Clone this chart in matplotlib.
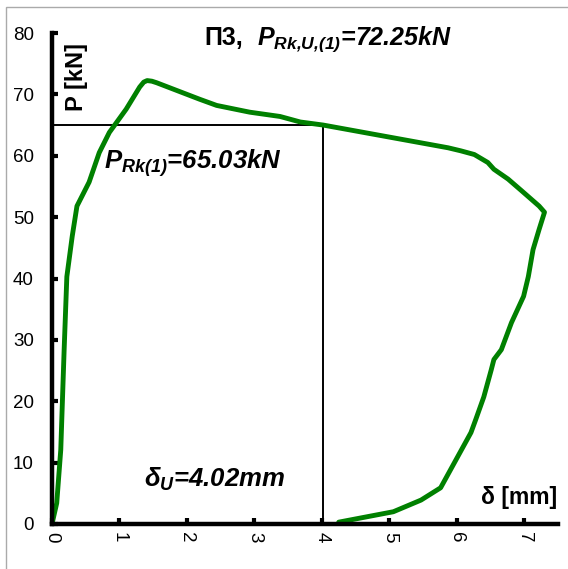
import numpy as np
import matplotlib
matplotlib.use('Agg')
import matplotlib.pyplot as plt
from matplotlib.patches import Rectangle

plt.rcParams['font.family'] = ['Liberation Sans', 'DejaVu Sans']
plt.rcParams['mathtext.fontset'] = 'custom'
plt.rcParams['mathtext.rm'] = 'Liberation Sans:bold:italic'
plt.rcParams['mathtext.it'] = 'Liberation Sans:bold:italic'
plt.rcParams['mathtext.bf'] = 'Liberation Sans:bold:italic'

# крива P-δ
delta = [0, 0.07, 0.13, 0.18, 0.22, 0.30, 0.37, 0.55, 0.70, 0.85, 1.10, 1.30, 1.36, 1.41,
         1.48, 1.55, 2.19, 2.44, 2.93, 3.38, 3.68, 4.02, 5.87, 6.06, 6.26, 6.46, 6.55,
         6.76, 6.96, 7.22, 7.30, 7.22, 7.13, 7.06, 6.99, 6.81, 6.66, 6.55, 6.51, 6.40,
         6.28, 6.21, 5.84, 5.76, 5.47, 5.06, 4.25]
P = [0, 3.4, 12.1, 28.4, 40.3, 46.9, 51.8, 55.7, 60.5, 63.8, 67.6, 71.2, 72.0, 72.25,
     72.15, 71.9, 69.2, 68.2, 67.1, 66.4, 65.5, 65.0, 61.3, 60.8, 60.2, 58.9, 57.8,
     56.2, 54.3, 51.8, 50.8, 48.0, 44.7, 40.3, 37.1, 32.8, 28.4, 26.8, 25.1, 20.7,
     17.0, 14.9, 7.5, 5.9, 3.9, 2.0, 0.3]

P_Rk = 65.03
delta_U = 4.02
xticks = [0, 1, 2, 3, 4, 5, 6, 7]
yticks = [0, 10, 20, 30, 40, 50, 60, 70, 80]

fig = plt.figure(figsize=(5.68, 5.69), dpi=100)
fig.patches.append(Rectangle((6 / 568, -0.1), 1.2, 1.1 - 7 / 569, transform=fig.transFigure,
                             fill=False, edgecolor='#aaaaaa', lw=1.0))
ax = fig.add_axes([52 / 568, 45 / 569, 506 / 568, 491 / 569])

ax.plot([0, delta_U], [P_Rk, P_Rk], color='black', lw=1.4)
ax.plot([delta_U, delta_U], [0, P_Rk], color='black', lw=1.4)
ax.plot(delta, P, color='#008000', lw=3.5, solid_capstyle='round', solid_joinstyle='round')

ax.set_xlim(0, 7.5)
ax.set_ylim(0, 80)
ax.set_xticks(xticks)
ax.set_yticks(yticks)
ax.spines['right'].set_visible(False)
ax.spines['top'].set_visible(False)
for s in ['left', 'bottom']:
    ax.spines[s].set_linewidth(3.2)
ax.tick_params(direction='in', length=4, width=3, labelsize=13.5)
ax.tick_params(axis='y', pad=13)
ax.tick_params(axis='x', pad=6, labelrotation=270)

ax.text(0.2, 67.3, 'P [kN]', rotation=90, ha='left', va='bottom',
        fontsize=17, fontweight='bold')
ax.text(6.36, 3.3, 'δ [mm]', ha='left', va='baseline', fontsize=16.5, fontweight='bold')

ax.text(2.26, 78.0, 'П3,', ha='left', va='baseline', fontsize=18, fontweight='bold')
ax.text(3.04, 78.0, r'$P_{Rk{,}U{,}(1)}$=72.25kN', ha='left', va='baseline', fontsize=18,
        fontweight='bold', fontstyle='italic')
ax.text(0.77, 57.8, r'$P_{Rk(1)}$=65.03kN', ha='left', va='baseline', fontsize=18.5,
        fontweight='bold', fontstyle='italic')
ax.text(1.37, 6.0, r'$\delta_U$=4.02mm', ha='left', va='baseline', fontsize=18.5,
        fontweight='bold', fontstyle='italic')

plt.savefig('out.png', dpi=100)
